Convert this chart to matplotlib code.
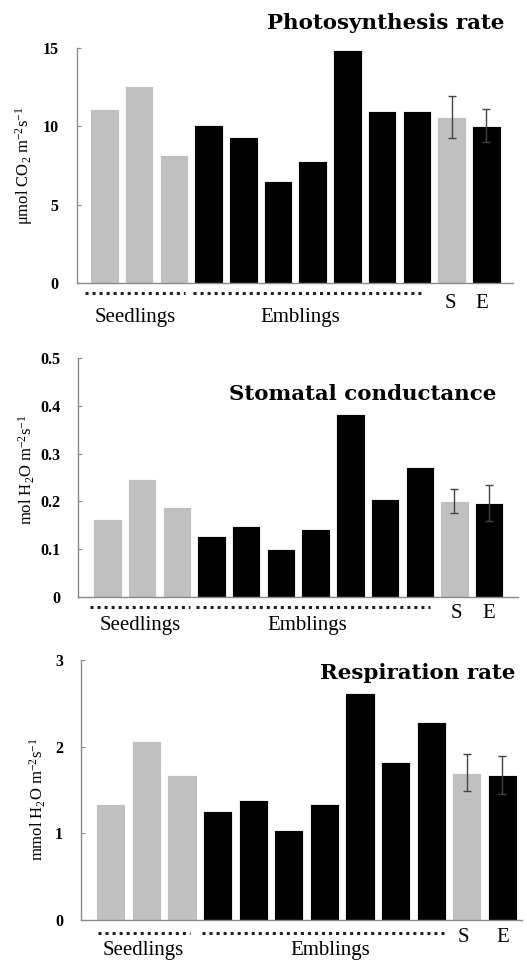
import matplotlib
matplotlib.use("Agg")
import matplotlib.pyplot as plt
from matplotlib.transforms import blended_transform_factory

plt.rcParams['font.family'] = ['Liberation Serif', 'DejaVu Serif']
plt.rcParams['mathtext.fontset'] = 'custom'
plt.rcParams['mathtext.rm'] = 'Liberation Serif'
plt.rcParams['mathtext.it'] = 'Liberation Serif:italic'
plt.rcParams['mathtext.bf'] = 'Liberation Serif:bold'

# ---------------- data ----------------
groups = ['S', 'S', 'S', 'E', 'E', 'E', 'E', 'E', 'E', 'E', 'S', 'E']
photo = [11.1, 12.6, 8.2, 10.1, 9.3, 6.5, 7.8, 14.9, 11.0, 11.0, 10.6, 10.05]
photo_err = [0, 0, 0, 0, 0, 0, 0, 0, 0, 0, 1.33, 1.05]
stoma = [0.162, 0.246, 0.189, 0.128, 0.149, 0.100, 0.143, 0.383, 0.204, 0.271, 0.200, 0.196]
stoma_err = [0, 0, 0, 0, 0, 0, 0, 0, 0, 0, 0.025, 0.038]
resp = [1.34, 2.065, 1.67, 1.26, 1.39, 1.04, 1.335, 2.615, 1.82, 2.28, 1.70, 1.67]
resp_err = [0, 0, 0, 0, 0, 0, 0, 0, 0, 0, 0.21, 0.22]

titles = ['Photosynthesis rate', 'Stomatal conductance', 'Respiration rate']
ylabels = [r'$\mathrm{\mu mol\ CO_2\ m^{-2}s^{-1}}$',
           r'$\mathrm{mol\ H_2O\ m^{-2}s^{-1}}$',
           r'$\mathrm{mmol\ H_2O\ m^{-2}s^{-1}}$']
yticks = [[0, 5, 10, 15], [0, 0.1, 0.2, 0.3, 0.4, 0.5], [0, 1, 2, 3]]
yticklabels = [['0', '5', '10', '15'], ['0', '0.1', '0.2', '0.3', '0.4', '0.5'], ['0', '1', '2', '3']]
ylims = [15, 0.5, 3]
group_labels = ['Seedlings', 'Emblings', 'S', 'E']

colors = {'S': '#c0c0c0', 'E': '#000000'}

W, H = 527, 963
fig = plt.figure(figsize=(W / 100, H / 100), dpi=100)

def ax_rect(left, right, top, bottom):
    return [left / W, (H - bottom) / H, (right - left) / W, (bottom - top) / H]

# layout per panel (pixels)
panels = [
    dict(rect=ax_rect(76.7, 513, 48.3, 282.7), xlim=(-0.8, 11.77),
         title=(504, 23, 'right'), ylab=(24, 166),
         dots_y=293, seed=(-0.56, 2.32), emb=(2.55, 9.18),
         seed_lab=(135, 317), emb_lab=(300, 317), se_y=303, S_x=450, E_x=482),
    dict(rect=ax_rect(78.3, 518, 358.3, 596.7), xlim=(-0.84, 11.83),
         title=(496, 394, 'right'), ylab=(27, 470),
         dots_y=607, seed=(-0.5, 2.38), emb=(2.56, 9.3),
         seed_lab=(140, 625), emb_lab=(307, 625), se_y=613, S_x=456, E_x=489),
    dict(rect=ax_rect(81, 522, 660, 920), xlim=(-0.84, 11.55),
         title=(515, 673, 'right'), ylab=(38, 799),
         dots_y=932.7, seed=(-0.36, 2.22), emb=(2.56, 9.46),
         seed_lab=(143, 950), emb_lab=(330, 950), se_y=937, S_x=463, E_x=503),
]

values = [photo, stoma, resp]
errors = [photo_err, stoma_err, resp_err]
x = list(range(len(groups)))
bar_colors = [colors[g] for g in groups]
spine_col = '#8a8a8a'

for i, p in enumerate(panels):
    ax = fig.add_axes(p['rect'])
    vals = values[i]
    errs = errors[i]
    ax.bar(x, vals, width=0.82, color=bar_colors, edgecolor='white', linewidth=0.6, zorder=2)
    ex = [xx for xx, e in zip(x, errs) if e > 0]
    ev = [v for v, e in zip(vals, errs) if e > 0]
    ee = [e for e in errs if e > 0]
    ax.errorbar(ex, ev, yerr=ee, fmt='none', ecolor='#444444', elinewidth=1.0,
                capsize=3, capthick=1.0, zorder=3)
    ax.set_xlim(*p['xlim'])
    ax.set_ylim(0, ylims[i])
    ax.set_yticks(yticks[i])
    ax.set_yticklabels(yticklabels[i], fontweight='bold', fontsize=11.5)
    ax.set_xticks([])
    for s in ['top', 'right']:
        ax.spines[s].set_visible(False)
    for s in ['left', 'bottom']:
        ax.spines[s].set_color(spine_col)
        ax.spines[s].set_linewidth(1.0)
    ax.tick_params(axis='y', direction='in', length=3, color=spine_col, pad=13)

    # dotted group lines
    bottom_px = H - p['rect'][1] * H
    y_ax = (bottom_px - p['dots_y']) / (p['rect'][3] * H)
    trans = blended_transform_factory(ax.transData, ax.transAxes)
    for (a, b) in [p['seed'], p['emb']]:
        ax.plot([a, b], [y_ax, y_ax], transform=trans, clip_on=False,
                color='#222222', linestyle=(0, (1, 1.3)), linewidth=2.2)

    # texts
    tx, ty, ha = p['title']
    fig.text(tx / W, 1 - ty / H, titles[i], ha=ha, va='center',
             fontsize=15.4, fontweight='bold', family='DejaVu Serif')
    fig.text(p['ylab'][0] / W, 1 - p['ylab'][1] / H, ylabels[i], rotation=90,
             ha='center', va='center', fontsize=12)
    fig.text(p['seed_lab'][0] / W, 1 - p['seed_lab'][1] / H, group_labels[0],
             ha='center', va='center', fontsize=15)
    fig.text(p['emb_lab'][0] / W, 1 - p['emb_lab'][1] / H, group_labels[1],
             ha='center', va='center', fontsize=15)
    fig.text(p['S_x'] / W, 1 - p['se_y'] / H, group_labels[2],
             ha='center', va='center', fontsize=15)
    fig.text(p['E_x'] / W, 1 - p['se_y'] / H, group_labels[3],
             ha='center', va='center', fontsize=15)

fig.savefig('out.png', dpi=100)
